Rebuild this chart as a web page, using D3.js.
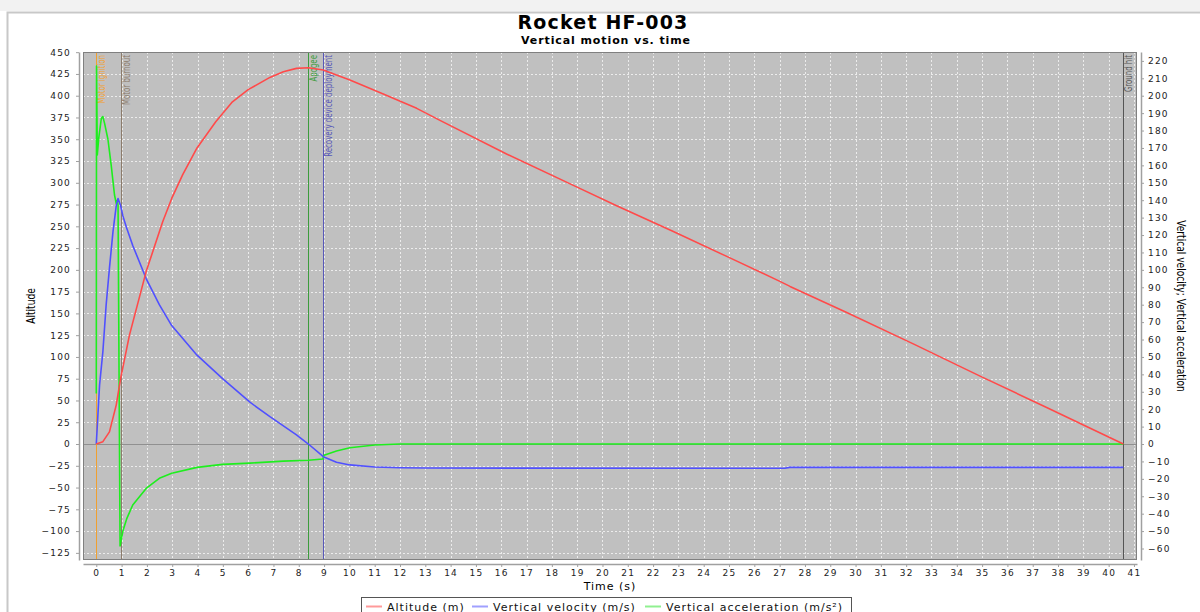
<!DOCTYPE html>
<html>
<head>
<meta charset="utf-8">
<script src="https://cdn.jsdelivr.net/npm/d3@7"></script>
<style>
  body { margin: 0; background: #fff; }
  svg { display: block; font-family: "DejaVu Sans", sans-serif; }
</style>
</head>
<body>
<svg width="1200" height="612"></svg>
<script>
// altitude (m)
var altTime = [0, 0.26, 0.52, 0.79, 0.96, 1.31, 1.97, 2.62, 2.98, 3.41, 3.98, 4.72, 5.38, 6.0, 6.86, 7.39, 7.91, 8.38, 8.97, 9.49, 10.02, 11.34, 12.66, 13.58, 16.21, 18.85, 20.56, 22.8, 24.91, 27.01, 27.41, 29.65, 32.28, 34.92, 37.55, 40.58];
var altValues = [0, 2.7, 14, 45, 75, 125, 198, 255, 282, 309, 340, 370, 393, 407, 421, 427.6, 431.4, 432.2, 429.5, 423.8, 418, 402, 385.5, 371.7, 333, 297, 273.7, 244, 215.5, 186.8, 181, 151, 115, 78, 42, 0];

// vertical velocity (m/s)
var velTime = [0, 0.13, 0.26, 0.39, 0.52, 0.66, 0.79, 0.86, 0.96, 1.05, 1.2, 1.44, 1.97, 2.49, 2.98, 3.98, 4.99, 6.07, 6.86, 7.91, 8.38, 8.97, 9.49, 10.02, 11.0, 12.0, 13.0, 27.2, 27.4, 40.58];
var velValues = [0, 34, 53, 80, 101, 122, 137, 141, 137, 131, 124, 114, 95, 80, 68, 51, 37.5, 24, 15.7, 5.2, 0, -7.3, -10.5, -12, -13.2, -13.6, -13.8, -13.9, -13.4, -13.4];

// vertical acceleration (m/s2)
var accTime = [0, 0.01, 0.04, 0.1, 0.2, 0.26, 0.33, 0.46, 0.59, 0.72, 0.79, 0.83, 0.86, 0.94, 1.05, 1.2, 1.44, 1.97, 2.49, 2.98, 3.98, 4.99, 6.07, 7.39, 8.38, 8.95, 9.0, 9.49, 10.02, 11.0, 12.0, 40.58];
var accValues = [29, 217, 166, 176, 187, 188, 184, 175, 160, 143, 138, 140, 137, -58.5, -50, -43, -35, -25.5, -19.7, -16.8, -13.4, -11.7, -11.0, -9.8, -9.3, -8.6, -6.5, -4, -2.1, -0.6, 0, 0];

var eventNames = ["Motor ignition", "Motor burnout", "Apogee", "Recovery device deployment", "Ground hit"];
var eventTimes = [0, 0.963, 8.37, 8.97, 40.58];
var eventColors = ["#f0a030", "#8c7c6c", "#3c9c3c", "#5858b8", "#555555"];

var seriesNames = ["Altitude (m)", "Vertical velocity (m/s)", "Vertical acceleration (m/s\u00b2)"];
var seriesColors = ["#ff4a4a", "#5050ff", "#1eee1e"];
var legendColors = ["#ff9a9a", "#a0a0ff", "#90f090"];

var leftTicks = d3.range(-125, 451, 25);
var rightTicks = d3.range(-60, 221, 10);
var timeTicks = d3.range(0, 42, 1);

var svg = d3.select("svg");
var plot = {left: 83, top: 52, right: 1137, bottom: 560};

// frame
svg.append("rect").attr("x", 0).attr("y", 0).attr("width", 1200).attr("height", 11).attr("fill", "#f2f2f2");
svg.append("path").attr("d", "M7.5,612 V12.5 H1200").attr("fill", "none").attr("stroke", "#c8c8c8").attr("stroke-width", 2);

var x = d3.scaleLinear().domain([-0.525, 41.12]).range([plot.left, plot.right]);
var yL = d3.scaleLinear().domain([-133.2, 450.2]).range([plot.bottom, plot.top]);
var yR = d3.scaleLinear().domain([-66.6, 225.1]).range([plot.bottom, plot.top]);

// plot background
svg.append("rect")
    .attr("x", plot.left).attr("y", plot.top)
    .attr("width", plot.right - plot.left).attr("height", plot.bottom - plot.top)
    .attr("fill", "#c0c0c0");

var grid = svg.append("g").attr("stroke", "#ececec").attr("stroke-dasharray", "2,2").attr("stroke-width", 1);
grid.selectAll(".gx").data(timeTicks).enter().append("line")
    .attr("x1", function(d) { return Math.round(x(d)) + 0.5; })
    .attr("x2", function(d) { return Math.round(x(d)) + 0.5; })
    .attr("y1", plot.top).attr("y2", plot.bottom);
grid.selectAll(".gy").data(leftTicks).enter().append("line")
    .attr("y1", function(d) { return Math.round(yL(d)) + 0.5; })
    .attr("y2", function(d) { return Math.round(yL(d)) + 0.5; })
    .attr("x1", plot.left).attr("x2", plot.right);

// zero baseline
svg.append("line")
    .attr("x1", plot.left).attr("x2", plot.right)
    .attr("y1", Math.round(yL(0)) + 0.5).attr("y2", Math.round(yL(0)) + 0.5)
    .attr("stroke", "#909090");

svg.append("clipPath").attr("id", "clip").append("rect")
    .attr("x", plot.left).attr("y", plot.top)
    .attr("width", plot.right - plot.left).attr("height", plot.bottom - plot.top);

var body = svg.append("g").attr("clip-path", "url(#clip)");

// event markers
body.selectAll(".ev").data(eventTimes).enter().append("line")
    .attr("x1", function(d) { return Math.round(x(d)) + 0.5; })
    .attr("x2", function(d) { return Math.round(x(d)) + 0.5; })
    .attr("y1", plot.top).attr("y2", plot.bottom)
    .attr("stroke", function(d, i) { return eventColors[i]; })
    .attr("stroke-width", 1);

body.selectAll(".evl").data(eventTimes).enter().append("text")
    .attr("transform", function(d) { return "translate(" + (Math.round(x(d)) + 9) + "," + (plot.top + 3) + ") rotate(-90) scale(0.78,1)"; })
    .attr("text-anchor", "end")
    .style("font-family", "'DejaVu Sans Condensed', sans-serif")
    .style("font-size", "10px")
    .attr("fill", function(d, i) { return eventColors[i]; })
    .text(function(d, i) { return eventNames[i]; });

function series(times, values, scale, color) {
  var pts = times.map(function(t, i) { return [t, values[i]]; });
  var line = d3.line()
      .x(function(d) { return x(d[0]); })
      .y(function(d) { return scale(d[1]); });
  body.append("path")
      .datum(pts)
      .attr("d", line)
      .attr("fill", "none")
      .attr("stroke", color)
      .attr("stroke-width", 1.6)
      .attr("stroke-linejoin", "round");
}
series(accTime, accValues, yR, seriesColors[2]);
series(velTime, velValues, yR, seriesColors[1]);
series(altTime, altValues, yL, seriesColors[0]);

// plot outline
svg.append("rect")
    .attr("x", plot.left + 0.5).attr("y", plot.top + 0.5)
    .attr("width", plot.right - plot.left - 1).attr("height", plot.bottom - plot.top - 1)
    .attr("fill", "none").attr("stroke", "#808080");

// axes
function styleAxis(g) {
  g.select(".domain").attr("stroke", "#a0a0a0").attr("stroke-width", 1.5);
  g.selectAll(".tick line").attr("stroke", "#a0a0a0");
  g.selectAll(".tick text").attr("fill", "#222")
      .style("font-size", "9px").style("letter-spacing", "1.2px")
      .style("font-family", "'DejaVu Sans', sans-serif");
}

svg.append("g")
    .attr("transform", "translate(79,0)")
    .call(d3.axisLeft(yL).tickValues(leftTicks).tickSize(3).tickSizeOuter(0).tickPadding(5))
    .call(styleAxis);

svg.append("g")
    .attr("transform", "translate(1141,0)")
    .call(d3.axisRight(yR).tickValues(rightTicks).tickSize(3).tickSizeOuter(0).tickPadding(4))
    .call(styleAxis);

svg.append("g")
    .attr("transform", "translate(0,564)")
    .call(d3.axisBottom(x).tickValues(timeTicks).tickSize(3).tickSizeOuter(0).tickPadding(3))
    .call(styleAxis);

// titles
svg.append("text").attr("x", 603).attr("y", 29).attr("text-anchor", "middle")
    .style("font-size", "19px").style("font-weight", "bold").style("letter-spacing", "1.2px")
    .text("Rocket HF-003");
svg.append("text").attr("x", 606).attr("y", 44).attr("text-anchor", "middle")
    .style("font-size", "11px").style("font-weight", "bold").style("letter-spacing", "0.9px")
    .text("Vertical motion vs. time");

svg.append("text").attr("x", 610).attr("y", 590).attr("text-anchor", "middle")
    .style("font-size", "11px").style("letter-spacing", "1px").text("Time (s)");
svg.append("text").attr("transform", "translate(35,306) rotate(-90) scale(0.76,1)").attr("text-anchor", "middle")
    .style("font-size", "12px").text("Altitude");
svg.append("text").attr("transform", "translate(1177,306) rotate(90) scale(0.76,1)").attr("text-anchor", "middle")
    .style("font-size", "12px").text("Vertical velocity; Vertical acceleration");

// legend
var legendX = [366, 472, 645];
var legend = svg.append("g");
legend.append("rect").attr("x", 361.5).attr("y", 597.5).attr("width", 490).attr("height", 20)
    .attr("fill", "#fff").attr("stroke", "#555");
seriesNames.forEach(function(name, i) {
  legend.append("line").attr("x1", legendX[i]).attr("x2", legendX[i] + 16).attr("y1", 606.5).attr("y2", 606.5)
      .attr("stroke", legendColors[i]).attr("stroke-width", 2);
  legend.append("text").attr("x", legendX[i] + 21).attr("y", 610.5)
      .style("font-size", "11px").style("letter-spacing", "1px").attr("fill", "#111").text(name);
});
</script>
</body>
</html>
